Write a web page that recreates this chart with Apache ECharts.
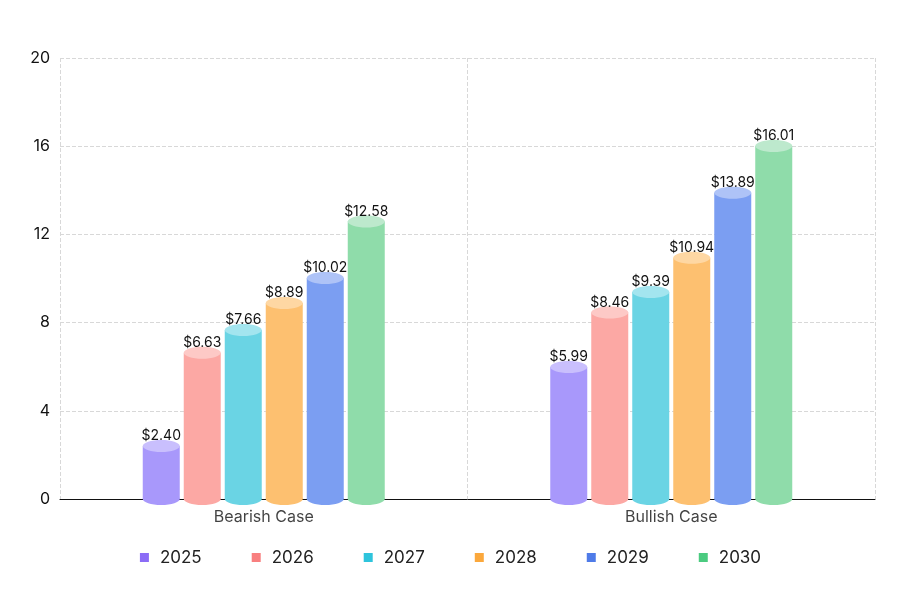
<!DOCTYPE html>
<html><head><meta charset="utf-8">
<script src="https://cdn.jsdelivr.net/npm/echarts@6/dist/echarts.min.js"></script>
<style>html,body{margin:0;padding:0;background:#fff}#c{width:901px;height:601px}</style>
</head><body><div id="c"></div>
<script>
const categories = ['Bearish Case', 'Bullish Case'];
const years = ['2025', '2026', '2027', '2028', '2029', '2030'];
const v2025 = [2.40, 5.99];
const v2026 = [6.63, 8.46];
const v2027 = [7.66, 9.39];
const v2028 = [8.89, 10.94];
const v2029 = [10.02, 13.89];
const v2030 = [12.58, 16.01];
const yTicks = [0, 4, 8, 12, 16, 20];
const values = [v2025, v2026, v2027, v2028, v2029, v2030];
const legendColors = ['#8b6cf6', '#f87f7f', '#2ec4dc', '#fba83c', '#4f7be8', '#4bcb80'];
const barColors = ['#a898fb', '#fca8a4', '#6ad4e4', '#fdc070', '#7b9ef2', '#8fdcaa'];
const topColors = ['#c9bffd', '#fdc9c6', '#a3e5ef', '#fed7a3', '#aec3f7', '#bde9cd'];

const chart = echarts.init(document.getElementById('c'));
const series = years.map((y, i) => ({
  name: y,
  type: 'custom',
  itemStyle: { color: legendColors[i] },
  data: values[i].map((v, k) => [k, v]),
  renderItem: function (params, api) {
    const cat = api.value(0), val = api.value(1);
    const p0 = api.coord([cat, 0]);
    const p1 = api.coord([cat, val]);
    const w = 37, step = 41, ry = 6;
    const cx = p0[0] + (i - 2.5) * step;
    return {
      type: 'group',
      children: [
        { type: 'ellipse', shape: { cx: cx, cy: p0[1], rx: w / 2, ry: ry }, style: { fill: barColors[i] } },
        { type: 'rect', shape: { x: cx - w / 2, y: p1[1], width: w, height: p0[1] - p1[1] }, style: { fill: barColors[i] } },
        { type: 'ellipse', shape: { cx: cx, cy: p1[1], rx: w / 2, ry: ry }, style: { fill: topColors[i] } },
        { type: 'text', style: { text: '$' + val.toFixed(2), x: cx, y: p1[1] - 3, align: 'center', verticalAlign: 'bottom', fill: '#111', font: '14px Inter, sans-serif' } }
      ]
    };
  }
}));

chart.setOption({
  animation: false,
  grid: { left: 60, right: 26, top: 58, bottom: 102 },
  legend: {
    bottom: 30, left: 'center', icon: 'rect', itemWidth: 9, itemHeight: 9, itemGap: 50,
    textStyle: { fontSize: 17, color: '#222', fontFamily: 'Inter, sans-serif', padding: [0, 0, 0, 6] },
    data: years
  },
  xAxis: {
    type: 'value', min: -0.5, max: 1.5, interval: 1,
    axisLine: { show: true, lineStyle: { color: '#111' } },
    axisTick: { show: false },
    axisLabel: { show: false },
    splitLine: { show: true, lineStyle: { type: 'dashed', color: '#d8d8d8' } }
  },
  yAxis: {
    type: 'value', min: yTicks[0], max: yTicks[yTicks.length - 1], interval: 4,
    axisLine: { show: false }, axisTick: { show: false },
    axisLabel: { fontSize: 16, color: '#111', margin: 10, fontFamily: 'Inter, sans-serif' },
    splitLine: { lineStyle: { type: 'dashed', color: '#d8d8d8' } }
  },
  series: series.concat([{
    type: 'scatter', data: categories.map((c, k) => [k, 0]), symbolSize: 0, silent: true,
    label: { show: true, position: 'bottom', distance: 10, formatter: p => categories[p.dataIndex], fontSize: 16, color: '#111', fontFamily: 'Inter, sans-serif' },
    z: 10
  }])
});
</script></body></html>
